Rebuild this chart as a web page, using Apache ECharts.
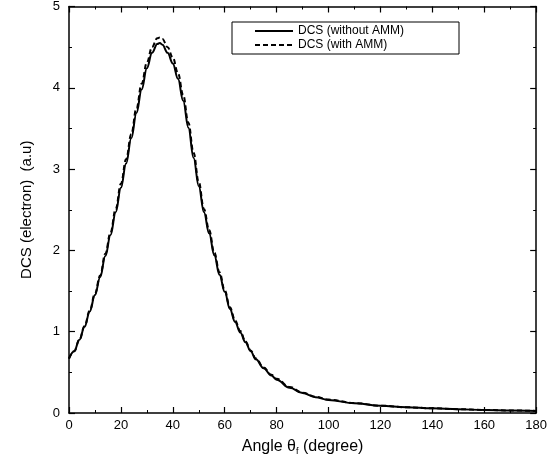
<!DOCTYPE html>
<html>
<head>
<meta charset="utf-8">
<script src="https://cdn.jsdelivr.net/npm/echarts@6/dist/echarts.min.js"></script>
<style>html,body{margin:0;padding:0;background:#fff}#c{width:550px;height:466px}</style>
</head>
<body>
<div id="c"></div>
<script>
var angles = [0,2,4,6,8,10,12,14,16,18,20,22,24,26,28,30,32,34,35,36,38,40,42,44,46,48,50,52,54,56,58,60,62,64,66,68,70,72,75,78,80,85,90,95,100,110,120,130,140,150,160,170,180];
var dcsWithout = [0.67,0.76,0.90,1.06,1.25,1.45,1.67,1.93,2.19,2.47,2.77,3.07,3.38,3.69,3.98,4.24,4.43,4.54,4.55,4.53,4.43,4.30,4.11,3.84,3.51,3.14,2.79,2.47,2.21,1.94,1.70,1.49,1.28,1.12,0.99,0.87,0.76,0.66,0.55,0.46,0.41,0.31,0.245,0.195,0.16,0.12,0.088,0.07,0.057,0.046,0.037,0.03,0.025];
var dcsWith = [0.67,0.76,0.90,1.07,1.26,1.47,1.69,1.96,2.22,2.51,2.82,3.12,3.43,3.75,4.05,4.31,4.50,4.61,4.62,4.60,4.50,4.37,4.18,3.91,3.57,3.20,2.84,2.51,2.25,1.97,1.73,1.51,1.30,1.14,1.01,0.88,0.77,0.67,0.56,0.47,0.42,0.32,0.25,0.20,0.165,0.122,0.09,0.071,0.058,0.047,0.038,0.031,0.026];
var xTicks = [0,20,40,60,80,100,120,140,160,180];
var yTicks = [0,1,2,3,4,5];
var seriesNames = ['DCS (without AMM)','DCS (with AMM)'];

function pairs(xs, ys){ return xs.map(function(x,i){return [x, ys[i]];}); }

var font = 'Liberation Sans, Arial, sans-serif';
var axisCommon = {
  axisLine:{show:true,onZero:false,lineStyle:{color:'#000',width:1.5}},
  axisTick:{show:true,inside:true,length:6,lineStyle:{color:'#000',width:1.2}},
  minorTick:{show:true,splitNumber:2,length:3,lineStyle:{color:'#000',width:1}},
  splitLine:{show:false}
};
var chart = echarts.init(document.getElementById('c'));
chart.setOption({
  animation:false,
  backgroundColor:'#fff',
  grid:{left:69,right:12,top:5,bottom:53,containLabel:false},
  legend:{
    left:232, top:22, orient:'vertical',
    data:seriesNames,
    itemWidth:38, itemHeight:12, itemGap:2,
    padding:[3,55,3,22],
    borderColor:'#000', borderWidth:1,
    itemStyle:{opacity:0},
    textStyle:{fontFamily:font,fontSize:12,color:'#000'}
  },
  xAxis:[
    Object.assign({type:'value',min:0,max:180,interval:20,position:'bottom',
      axisLabel:{color:'#000',fontFamily:font,fontSize:13,margin:6,
        formatter:function(v){return xTicks.indexOf(v)>=0?String(v):'';}},
      name:'{a|Angle θ}{s|f}{a| (degree)}', nameLocation:'middle', nameGap:24,
      nameTextStyle:{rich:{a:{fontFamily:font,fontSize:16,color:'#000'},s:{fontFamily:font,fontSize:9,color:'#000',padding:[10,0,0,0]}}}
    }, axisCommon),
    Object.assign({type:'value',min:0,max:180,interval:20,position:'top',axisLabel:{show:false}}, axisCommon)
  ],
  yAxis:[
    Object.assign({type:'value',min:0,max:5,interval:1,position:'left',
      axisLabel:{color:'#000',fontFamily:font,fontSize:13,margin:9,
        formatter:function(v){return yTicks.indexOf(v)>=0?String(v):'';}},
      name:'DCS (electron)  (a.u)', nameLocation:'middle', nameGap:35,
      nameTextStyle:{fontFamily:font,fontSize:15,color:'#000'}
    }, axisCommon),
    Object.assign({type:'value',min:0,max:5,interval:1,position:'right',axisLabel:{show:false}}, axisCommon)
  ],
  series:[
    {name:seriesNames[0],type:'line',xAxisIndex:0,yAxisIndex:0,data:pairs(angles,dcsWithout),
     smooth:0.4,smoothMonotone:'x',showSymbol:false,symbol:'none',z:5,
     lineStyle:{color:'#000',width:2,type:'solid'},itemStyle:{color:'#000'}},
    {name:seriesNames[1],type:'line',xAxisIndex:0,yAxisIndex:0,data:pairs(angles,dcsWith),
     smooth:0.4,smoothMonotone:'x',showSymbol:false,symbol:'none',z:3,
     lineStyle:{color:'#000',width:2,type:[5,3]},itemStyle:{color:'#000'}}
  ]
});
</script>
</body>
</html>
